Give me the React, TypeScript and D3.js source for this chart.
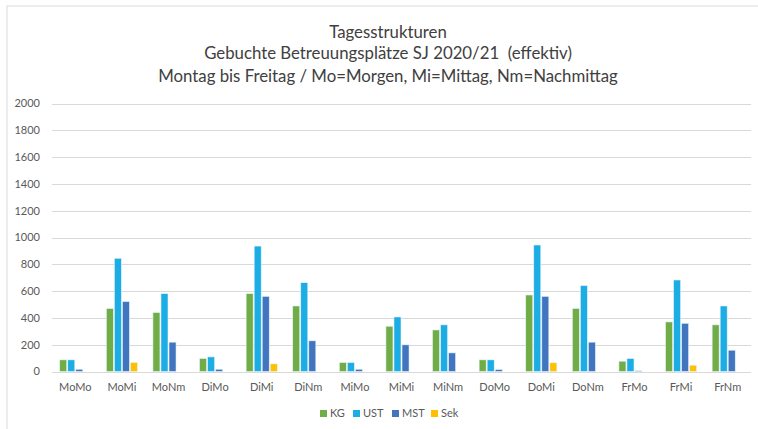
import * as d3 from "d3";

const categories = [
  "MoMo", "MoMi", "MoNm", "DiMo", "DiMi", "DiNm", "MiMo", "MiMi",
  "MiNm", "DoMo", "DoMi", "DoNm", "FrMo", "FrMi", "FrNm",
];
const seriesNames = ["KG", "UST", "MST", "Sek"];
const kg = [87, 470, 440, 97, 581, 489, 67, 338, 310, 87, 571, 470, 77, 370, 348];
const ust = [87, 845, 581, 109, 936, 663, 67, 407, 348, 87, 944, 641, 97, 683, 489];
const mst = [17, 522, 219, 17, 561, 229, 17, 199, 139, 15, 561, 219, 5, 360, 159];
const sek = [0, 67, 0, 0, 57, 0, 0, 0, 0, 0, 65, 0, 0, 47, 0];
const colors = ["#70AD47", "#1CADE4", "#4175C0", "#FFC000"];
const yTicks = [0, 200, 400, 600, 800, 1000, 1200, 1400, 1600, 1800, 2000];
const titleLines = [
  "Tagesstrukturen",
  "Gebuchte Betreuungsplätze SJ 2020/21  (effektiv)",
  "Montag bis Freitag / Mo=Morgen, Mi=Mittag, Nm=Nachmittag",
];

export default function App() {
  const width = 758;
  const height = 429;
  const left = 52;
  const right = 751;
  const top = 103.5;
  const bottom = 371.5;
  const font = "Lato, 'Open Sans', sans-serif";

  const values = [kg, ust, mst, sek];

  const x = d3.scaleBand().domain(categories).range([left, right]).paddingInner(0.31).paddingOuter(0.155);
  const xInner = d3.scaleBand().domain(seriesNames).range([0, x.bandwidth()]).padding(0);
  const y = d3.scaleLinear().domain([0, 2000]).range([bottom, top]);

  const legendX = [320, 353, 392, 431];

  return (
    <svg width={width} height={height} style={{ position: "absolute", left: 0, top: 0, background: "white" }}>
      <rect x={7} y={6} width={760} height={440} fill="white" stroke="#D9D9D9" strokeWidth={1} />
      {titleLines.map((t, i) => (
        <text
          key={i}
          x={388}
          y={[38, 59, 82][i]}
          textAnchor="middle"
          fontFamily={font}
          fontSize={16.8}
          fill="#404040"
          style={{ whiteSpace: "pre" }}
        >
          {t}
        </text>
      ))}
      {yTicks.map((t) => (
        <g key={t}>
          <line x1={left} x2={right} y1={Math.round(y(t)) + 0.5} y2={Math.round(y(t)) + 0.5} stroke="#D9D9D9" strokeWidth={1} />
          <text x={40} y={y(t)} dy="0.35em" textAnchor="end" fontFamily={font} fontSize={11} fill="#595959">
            {t}
          </text>
        </g>
      ))}
      {categories.map((c, i) => (
        <g key={c} transform={`translate(${x(c)},0)`}>
          {seriesNames.map((s, j) =>
            values[j][i] > 0 ? (
              <rect
                key={s}
                x={xInner(s)! + 0.5}
                y={y(values[j][i])}
                width={xInner.bandwidth() - 1}
                height={bottom - y(values[j][i])}
                fill={colors[j]}
                stroke="#E8F4FB"
                strokeWidth={0.6}
              />
            ) : null
          )}
          <text x={x.bandwidth() / 2} y={391} textAnchor="middle" fontFamily={font} fontSize={11} fill="#595959">
            {c}
          </text>
        </g>
      ))}
      {seriesNames.map((s, j) => (
        <g key={s}>
          <rect x={legendX[j]} y={410} width={7} height={7} fill={colors[j]} />
          <text x={legendX[j] + 10} y={417} fontFamily={font} fontSize={11} fill="#595959">
            {s}
          </text>
        </g>
      ))}
    </svg>
  );
}
